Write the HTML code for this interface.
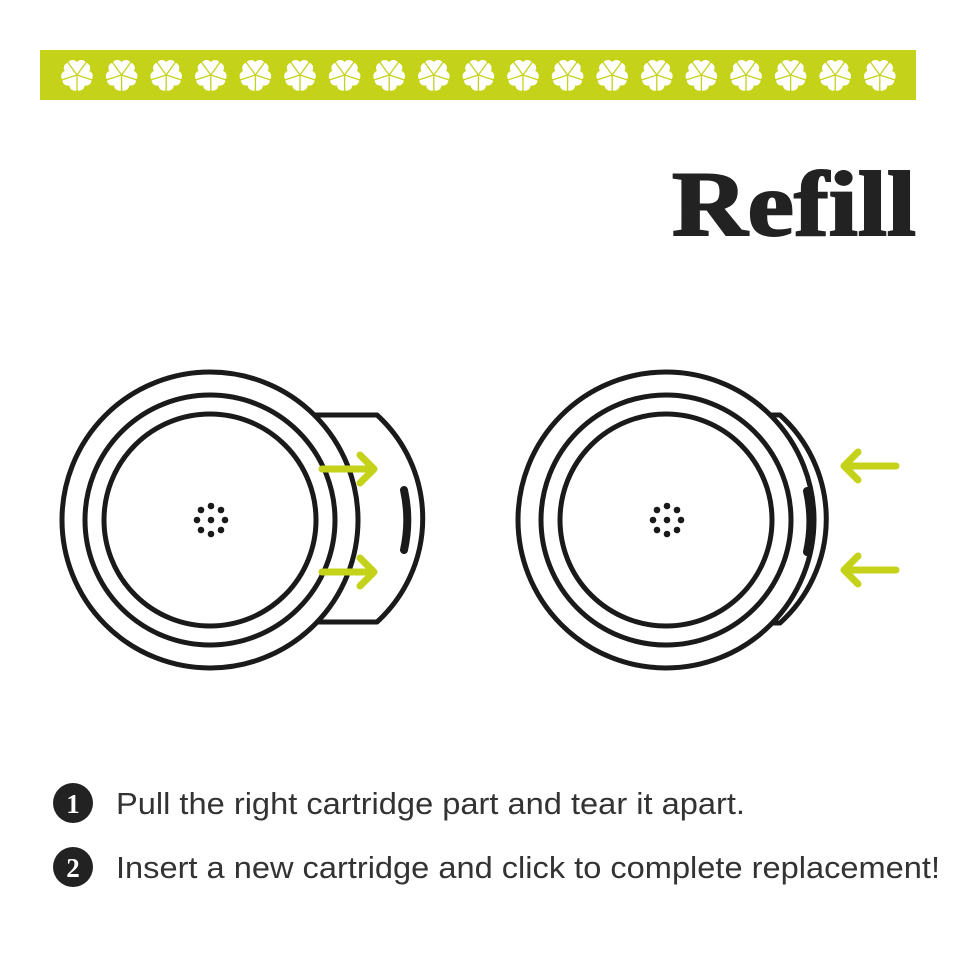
<!DOCTYPE html>
<html><head><style>body{margin:0;background:#fff}svg{display:block}</style></head><body>
<svg width="970" height="971" viewBox="0 0 970 971" xmlns="http://www.w3.org/2000/svg">
<defs>
 <g id="pt"><circle cx="-4.3" cy="-9.5" r="5.5"/><circle cx="4.3" cy="-9.5" r="5.5"/><path d="M-9.3,-7.5 L0,-1 L9.3,-7.5 Z"/></g>
 <g id="fl">
  <g fill="#fff"><use href="#pt"/><use href="#pt" transform="rotate(72)"/><use href="#pt" transform="rotate(144)"/><use href="#pt" transform="rotate(216)"/><use href="#pt" transform="rotate(288)"/></g>
  <g stroke="#c5d21a" stroke-width="1.3" stroke-linecap="round">
   <g id="sep"><line x1="0" y1="-2" x2="0" y2="-17" transform="rotate(36)"/><line x1="0" y1="-14" x2="0" y2="-17"/></g>
   <use href="#sep" transform="rotate(72)"/><use href="#sep" transform="rotate(144)"/><use href="#sep" transform="rotate(216)"/><use href="#sep" transform="rotate(288)"/>
  </g>
  <circle r="1.4" fill="#c5d21a"/>
 </g>
 <g id="dots" fill="#1a1a1a"><circle cx="0" cy="0" r="3.3"/><circle cx="0" cy="-14" r="3.3"/><circle cx="10" cy="-10" r="3.3"/><circle cx="14" cy="0" r="3.3"/><circle cx="10" cy="10" r="3.3"/><circle cx="0" cy="14" r="3.3"/><circle cx="-10" cy="10" r="3.3"/><circle cx="-14" cy="0" r="3.3"/><circle cx="-10" cy="-10" r="3.3"/></g>
</defs>
<rect x="40" y="50" width="876" height="50" fill="#c5d21a"/>
<use href="#fl" x="77" y="75"/><use href="#fl" x="121.6" y="75"/><use href="#fl" x="166.2" y="75"/><use href="#fl" x="210.8" y="75"/><use href="#fl" x="255.4" y="75"/><use href="#fl" x="300" y="75"/><use href="#fl" x="344.6" y="75"/><use href="#fl" x="389.2" y="75"/><use href="#fl" x="433.8" y="75"/><use href="#fl" x="478.4" y="75"/><use href="#fl" x="523" y="75"/><use href="#fl" x="567.6" y="75"/><use href="#fl" x="612.2" y="75"/><use href="#fl" x="656.8" y="75"/><use href="#fl" x="701.4" y="75"/><use href="#fl" x="746" y="75"/><use href="#fl" x="790.6" y="75"/><use href="#fl" x="835.2" y="75"/><use href="#fl" x="879.8" y="75"/>
<text x="916" y="235" text-anchor="end" font-family="Liberation Serif, serif" font-weight="bold" font-size="92" fill="#222" stroke="#222" stroke-width="2" textLength="244" lengthAdjust="spacingAndGlyphs">Refill</text>

<g fill="none" stroke="#1a1a1a" stroke-width="5" stroke-linejoin="round" stroke-linecap="round">
 <path d="M300,415 L377,415 A140,140 0 0 1 377,622 L300,622"/>
 <circle cx="210" cy="520" r="148" fill="#fff"/>
 <circle cx="210" cy="520" r="125"/>
 <circle cx="210" cy="520" r="106"/>
 <path d="M404,490 A140,140 0 0 1 404,550" stroke-width="8"/>
 <path d="M760,415 L780,415 A140,140 0 0 1 780,623 L760,623"/>
 <circle cx="666" cy="520" r="148" fill="#fff"/>
 <circle cx="666" cy="520" r="125"/>
 <circle cx="666" cy="520" r="106"/>
 <path d="M807,491 A140,140 0 0 1 807,552" stroke-width="8"/>
</g>
<use href="#dots" x="211" y="520"/>
<use href="#dots" x="667" y="520"/>
<g fill="none" stroke="#c5d21a" stroke-width="7" stroke-linecap="round" stroke-linejoin="round">
 <path d="M322,469 L374,469 M360,455 L374,469 L360,483"/>
 <path d="M322,572 L374,572 M360,558 L374,572 L360,586"/>
 <path d="M896,466 L844,466 M858,452 L844,466 L858,480"/>
 <path d="M896,570 L844,570 M858,556 L844,570 L858,584"/>
</g>
<circle cx="73" cy="803" r="20" fill="#222"/>
<text x="73" y="813" text-anchor="middle" font-family="Liberation Serif, serif" font-weight="bold" font-size="27" fill="#fff">1</text>
<circle cx="73" cy="867" r="20" fill="#222"/>
<text x="73" y="877" text-anchor="middle" font-family="Liberation Serif, serif" font-weight="bold" font-size="27" fill="#fff">2</text>
<text x="116" y="814" font-family="Liberation Sans, sans-serif" font-size="31" fill="#333" textLength="629" lengthAdjust="spacingAndGlyphs">Pull the right cartridge part and tear it apart.</text>
<text x="116" y="878" font-family="Liberation Sans, sans-serif" font-size="31" fill="#333" textLength="824" lengthAdjust="spacingAndGlyphs">Insert a new cartridge and click to complete replacement!</text>
</svg>
</body></html>
